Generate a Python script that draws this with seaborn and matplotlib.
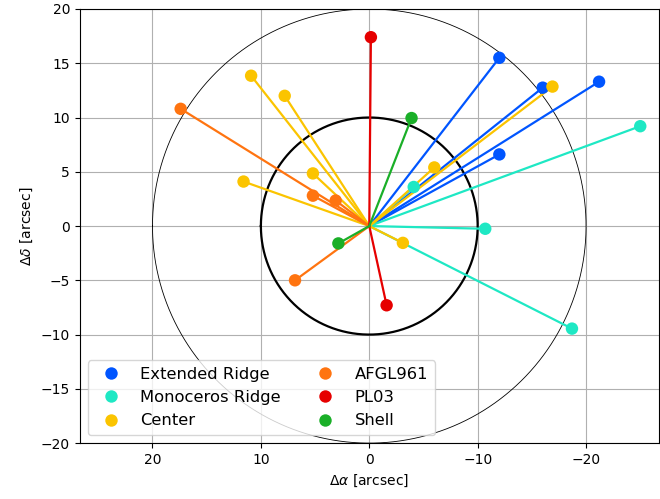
import matplotlib
matplotlib.use("Agg")
import matplotlib.pyplot as plt
import numpy as np
import pandas as pd
import seaborn as sns

# Offsets of each component from the reference position (arcsec)
groups = ["Extended Ridge", "Monoceros Ridge", "Center", "AFGL961", "PL03", "Shell"]

ext_ridge_ra = [-12.0, -16.0, -21.2, -12.0]
ext_ridge_dec = [15.5, 12.75, 13.3, 6.6]

mon_ridge_ra = [-25.0, -4.1, -10.7, -18.7]
mon_ridge_dec = [9.2, 3.6, -0.25, -9.45]

center_ra = [10.9, 7.8, 5.2, 11.6, -16.9, -6.0, -3.1]
center_dec = [13.85, 12.0, 4.85, 4.1, 12.85, 5.4, -1.55]

afgl_ra = [17.4, 5.2, 3.1, 6.85]
afgl_dec = [10.8, 2.8, 2.35, -5.0]

pl03_ra = [-0.15, -1.6]
pl03_dec = [17.4, -7.3]

shell_ra = [-3.9, 2.85]
shell_dec = [9.95, -1.6]

colors = ["#0055ff", "#1ee8c4", "#fbc400", "#ff7410", "#e60000", "#1aaf28"]

ra_lists = [ext_ridge_ra, mon_ridge_ra, center_ra, afgl_ra, pl03_ra, shell_ra]
dec_lists = [ext_ridge_dec, mon_ridge_dec, center_dec, afgl_dec, pl03_dec, shell_dec]

rows = []
for g, ras, decs in zip(groups, ra_lists, dec_lists):
    for a, d in zip(ras, decs):
        rows.append({"group": g, "dra": a, "ddec": d})
df = pd.DataFrame(rows)

fig, ax = plt.subplots(figsize=(6.6, 4.99), dpi=100)
fig.subplots_adjust(left=0.121, right=0.998, top=0.982, bottom=0.112)

ax.grid(True, color="#b0b0b0", linewidth=0.8, zorder=0)
ax.set_axisbelow(True)

# Reference circles at 10" and 20"
theta = np.linspace(0, 2 * np.pi, 400)
ax.plot(20 * np.cos(theta), 20 * np.sin(theta), color="black", linewidth=0.6, zorder=1)
ax.plot(10 * np.cos(theta), 10 * np.sin(theta), color="black", linewidth=1.6, zorder=1)

# Rays from the origin to each component
palette = dict(zip(groups, colors))
for _, r in df.iterrows():
    ax.plot([0, r["dra"]], [0, r["ddec"]], color=palette[r["group"]],
            linewidth=1.6, zorder=2)

sns.scatterplot(data=df, x="dra", y="ddec", hue="group", hue_order=groups,
                palette=palette, s=80, edgecolor="none", linewidth=0,
                ax=ax, zorder=3)

handles, labels = ax.get_legend_handles_labels()
ax.legend(handles, labels, ncol=2, loc="lower left", fontsize=11.8,
          columnspacing=1.7, handletextpad=0.8, framealpha=0.8)

ax.set_xlim(26.7, -26.7)
ax.set_ylim(-20, 20)
ax.set_xticks([20, 10, 0, -10, -20])
ax.set_yticks(np.arange(-20, 21, 5))
ax.set_xlabel(r"$\Delta\alpha$ [arcsec]")
ax.set_ylabel(r"$\Delta\delta$ [arcsec]")

fig.savefig("out.png", dpi=100)
